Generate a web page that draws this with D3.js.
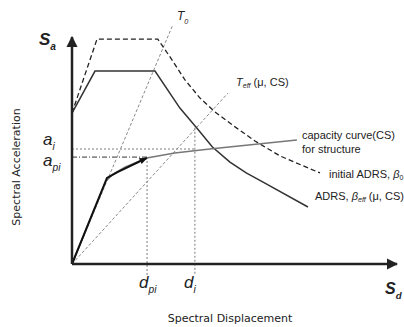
<!DOCTYPE html>
<html>
<head>
<meta charset="utf-8">
<script src="https://cdn.jsdelivr.net/npm/d3@7"></script>
<style>
  body { margin: 0; background: #fff; }
  text { font-family: "Liberation Sans", Arial, sans-serif; fill: #222; }
</style>
</head>
<body>
<svg id="chart"></svg>
<script>
// Sd (cm-ish units), Sa (g)
const initialADRS = [[0, 0.665], [3.85, 0.991], [13.2, 0.991], [15.08, 0.912], [17.38, 0.811],
  [19.69, 0.731], [22.0, 0.670], [25.08, 0.604], [28.15, 0.542], [32.0, 0.476], [38.15, 0.401]];
const effADRS = [[0, 0.665], [3.54, 0.850], [12.77, 0.850], [16.6, 0.687], [19.2, 0.599],
  [21.6, 0.515], [24.3, 0.449], [26.8, 0.401], [29.4, 0.361], [36.3, 0.251]];
const capacity = [[0, 0], [5.23, 0.366], [6.31, 0.396], [8.15, 0.427], [11.5, 0.467],
  [15.8, 0.489], [21.2, 0.507], [34.6, 0.546]];
const bilinear = [[0, 0], [5.38, 0.379], [7.0, 0.405], [11.5, 0.467]];
const T0 = [[0, 0], [15.5, 1.053]];
const Teff = [[0, 0], [24.0, 0.753]];
const dpi = 11.55, api = 0.471;
const di = 18.9, ai = 0.507, diTop = 0.6;
const sdMax = 50, saMax = 1.0;

const width = 404, height = 327;
const svg = d3.select("#chart").attr("width", width).attr("height", height);

const x = d3.scaleLinear().domain([0, sdMax]).range([72, 397]);
const y = d3.scaleLinear().domain([0, saMax]).range([264, 37]);
const line = d3.line().x(d => x(d[0])).y(d => y(d[1]));

/* markers */
const defs = svg.append("defs");
defs.append("marker")
    .attr("id", "axisArrow")
    .attr("viewBox", [0, 0, 10, 10])
    .attr("refX", 9).attr("refY", 5)
    .attr("markerWidth", 4.5).attr("markerHeight", 4.5)
    .attr("orient", "auto")
  .append("path")
    .attr("d", "M0,0L10,5L0,10z")
    .attr("fill", "#222");
defs.append("marker")
    .attr("id", "curveArrow")
    .attr("viewBox", [0, 0, 10, 10])
    .attr("refX", 9).attr("refY", 5)
    .attr("markerWidth", 4).attr("markerHeight", 4)
    .attr("orient", "auto")
  .append("path")
    .attr("d", "M0,1L10,5L0,9z")
    .attr("fill", "#111");

// guide lines
svg.append("path")
    .attr("d", line([[0, ai], [di, ai]]))
    .attr("stroke", "#aaa").attr("stroke-width", 1.5)
    .attr("stroke-dasharray", "2,2").attr("fill", "none");
svg.append("path")
    .attr("d", line([[0, api], [dpi, api]]))
    .attr("stroke", "#333").attr("stroke-width", 1)
    .attr("stroke-dasharray", "5,2,1,2").attr("fill", "none");
svg.append("path")
    .attr("d", line([[dpi, api], [dpi, -0.05]]))
    .attr("stroke", "#999").attr("stroke-width", 1.3)
    .attr("stroke-dasharray", "2,2").attr("fill", "none");
svg.append("path")
    .attr("d", line([[di, diTop], [di, -0.05]]))
    .attr("stroke", "#999").attr("stroke-width", 1.3)
    .attr("stroke-dasharray", "2,2").attr("fill", "none");

// period lines
[T0, Teff].forEach(p => {
  svg.append("path")
      .attr("d", line(p))
      .attr("stroke", "#888").attr("stroke-width", 1)
      .attr("stroke-dasharray", "3,2").attr("fill", "none");
});

// spectra
svg.append("path")
    .attr("d", line(initialADRS))
    .attr("stroke", "#222").attr("stroke-width", 1.3)
    .attr("stroke-dasharray", "5,3").attr("fill", "none");
svg.append("path")
    .attr("d", line(effADRS))
    .attr("stroke", "#333").attr("stroke-width", 1.5).attr("fill", "none");

// capacity curve
svg.append("path")
    .attr("d", line(capacity))
    .attr("stroke", "#777").attr("stroke-width", 1.5).attr("fill", "none");
svg.append("path")
    .attr("d", line(bilinear))
    .attr("stroke", "#111").attr("stroke-width", 2).attr("fill", "none")
    .attr("marker-end", "url(#curveArrow)");

// axes
svg.append("path")
    .attr("d", line([[0, 0], [0, saMax]]))
    .attr("stroke", "#222").attr("stroke-width", 2.5)
    .attr("marker-end", "url(#axisArrow)");
svg.append("path")
    .attr("d", line([[0, 0], [sdMax, 0]]))
    .attr("stroke", "#222").attr("stroke-width", 2.5)
    .attr("marker-end", "url(#axisArrow)");

/* labels */
function subLabel(px, py, main, sub, size, weight) {
  const t = svg.append("text")
      .attr("x", px).attr("y", py)
      .attr("font-size", size).attr("font-style", "italic")
      .attr("font-weight", weight || "normal");
  t.append("tspan").text(main);
  t.append("tspan").text(sub)
      .attr("font-size", size * 0.6).attr("dy", size * 0.3);
  return t;
}
subLabel(39, 45, "S", "a", 17, "bold");
subLabel(385, 294, "S", "d", 16, "bold");
subLabel(43, 145, "a", "i", 17);
subLabel(43, 166, "a", "pi", 17);
subLabel(139, 288, "d", "pi", 17);
subLabel(184, 288, "d", "i", 17);
subLabel(177, 20, "T", "0", 12);

const teff = svg.append("text").attr("x", 236).attr("y", 86).attr("font-size", 11);
teff.append("tspan").text("T").attr("font-style", "italic");
teff.append("tspan").text("eff").attr("font-style", "italic").attr("font-size", 7).attr("dy", 2);
teff.append("tspan").text(" (μ, CS)").attr("dy", -2);

svg.append("text").attr("x", 302).attr("y", 139).attr("font-size", 11)
    .text("capacity curve(CS)");
svg.append("text").attr("x", 302).attr("y", 153).attr("font-size", 11)
    .text("for structure");

const init = svg.append("text").attr("x", 329).attr("y", 178).attr("font-size", 11);
init.append("tspan").text("initial ADRS, ");
init.append("tspan").text("β").attr("font-style", "italic");
init.append("tspan").text("0").attr("font-size", 7).attr("dy", 2);

const eff = svg.append("text").attr("x", 315).attr("y", 200).attr("font-size", 11);
eff.append("tspan").text("ADRS, ");
eff.append("tspan").text("β").attr("font-style", "italic");
eff.append("tspan").text("eff").attr("font-style", "italic").attr("font-size", 7).attr("dy", 2);
eff.append("tspan").text(" (μ, CS)").attr("dy", -2);

svg.append("text")
    .attr("x", 230).attr("y", 322)
    .attr("text-anchor", "middle")
    .attr("font-size", 11)
    .style("font-family", "'DejaVu Sans', sans-serif")
    .text("Spectral Displacement");
svg.append("text")
    .attr("transform", "translate(20,167) rotate(-90)")
    .attr("text-anchor", "middle")
    .attr("font-size", 11)
    .style("font-family", "'DejaVu Sans', sans-serif")
    .text("Spectral Acceleration");
</script>
</body>
</html>
